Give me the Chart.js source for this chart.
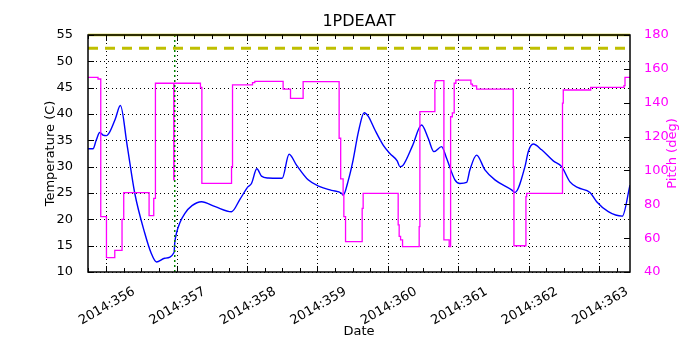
<!DOCTYPE html>
<html>
<head>
<meta charset="utf-8">
<script src="https://cdn.jsdelivr.net/npm/chart.js@4/dist/chart.umd.min.js"></script>
<style>
  body { margin: 0; background: #fff; }
  #wrap { width: 700px; height: 350px; }
</style>
</head>
<body>
<div id="wrap"><canvas id="c" width="700" height="350"></canvas></div>
<script>
// day-of-year 2014 (fractional) and temperature (C)
const tempDays = [
    355.744, 355.815, 355.86, 355.911, 355.957, 356.006, 356.053, 356.13, 356.204,
    356.30, 356.407, 356.549, 356.64, 356.716, 356.833, 356.965, 356.975, 357.0,
    357.046, 357.117, 357.22, 357.355, 357.55, 357.781, 357.90, 358.016, 358.064,
    358.140, 358.206, 358.30, 358.466, 358.499, 358.598, 358.703, 358.868, 359.034,
    359.20, 359.342, 359.365, 359.44, 359.507, 359.58, 359.663, 359.72, 359.815,
    359.933, 360.028, 360.132, 360.170, 360.217, 360.35, 360.478, 360.572, 360.653,
    360.762, 360.833, 360.951, 361.022, 361.117, 361.164, 361.259, 361.377, 361.519,
    361.756, 361.803, 361.945, 361.992, 362.063, 362.182, 362.347, 362.466, 362.584,
    362.70, 362.868, 362.963, 363.128, 363.326, 363.436
];
const tempValues = [
    33.4, 33.4, 35.0, 36.5, 36.0, 35.9, 36.6, 39.0, 41.6,
    34.0, 25.0, 17.4, 13.6, 11.9, 12.6, 13.7, 15.5, 17.4,
    19.3, 21.1, 22.6, 23.35, 22.4, 21.45, 23.8, 26.2, 26.8,
    29.6, 28.2, 27.85, 27.8, 27.8, 32.35, 30.3, 27.5, 26.2,
    25.5, 24.95, 24.6, 27.5, 31.3, 36.5, 40.25, 39.6, 37.0,
    34.1, 32.5, 31.1, 30.0, 30.3, 34.0, 37.9, 35.4, 32.85,
    33.8, 31.6, 27.5, 26.8, 27.0, 29.4, 32.2, 29.4, 27.5,
    25.6, 25.1, 30.0, 32.85, 34.3, 33.2, 31.1, 30.0, 27.1,
    26.0, 25.1, 23.35, 21.45, 20.6, 26.5
];

// pitch (deg): each value holds from its day until the next one
const pitchDays = [
    355.744, 355.886, 355.925, 356.006, 356.124, 356.227, 356.251, 356.611, 356.677,
    356.701, 356.961, 356.966, 357.34, 357.36, 357.781, 357.795, 358.079, 358.111,
    358.513, 358.618, 358.797, 359.308, 359.33, 359.365, 359.375, 359.399, 359.635,
    359.649, 360.146, 360.16, 360.18, 360.208, 360.444, 360.454, 360.667, 360.677,
    360.795, 360.87, 360.89, 360.915, 360.941, 360.965, 361.178, 361.20, 361.259,
    361.779, 361.789, 361.959, 361.969, 362.478, 362.489, 362.878, 363.351, 363.365,
    363.436
];
const pitchValues = [
    155, 154, 72.7, 48.5, 52.8, 71.1, 86.9, 73.3, 83.5,
    151.5, 94.4, 151.5, 149, 92.4, 102.2, 150.5, 151.9, 152.6,
    148, 142.6, 152.4, 119, 95, 85.5, 72.7, 57.9, 77.6,
    86.5, 67.8, 61, 59, 55, 66.8, 134.7, 151.9, 153,
    59, 55, 131.7, 134, 151.5, 153.4, 151, 150, 148,
    102.2, 55.5, 84.5, 86.5, 139.7, 147.5, 149.1, 150.1, 155,
    155
];

const xMin = 355.744;
const xMax = 363.436;
const limitLine = 55;      // solid yellow
const planLine = 52.5;     // dashed yellow
const markerDay = 356.975; // green dotted

const xTickLabels = ['2014:356', '2014:357', '2014:358', '2014:359',
                     '2014:360', '2014:361', '2014:362', '2014:363'];
const xTickDays = [356, 357, 358, 359, 360, 361, 362, 363];

const FONT = "'DejaVu Sans', sans-serif";
const MAGENTA = '#ff00ff';

function toPoints(xs, ys) {
    return xs.map((x, i) => ({x: x, y: ys[i]}));
}

// grid, frame, inward ticks and the text matplotlib puts round the axes
const framePlugin = {
    id: 'frame',
    beforeDatasetsDraw(chart) {
        const {ctx, chartArea: a, scales} = chart;
        ctx.save();
        ctx.strokeStyle = '#000';
        ctx.lineWidth = 1;
        ctx.setLineDash([1, 3]);
        ctx.beginPath();
        scales.x.ticks.forEach(t => {
            const px = Math.round(scales.x.getPixelForValue(t.value)) + 0.5;
            ctx.moveTo(px, a.top);
            ctx.lineTo(px, a.bottom);
        });
        scales.y.ticks.forEach(t => {
            const py = Math.round(scales.y.getPixelForValue(t.value)) + 0.5;
            ctx.moveTo(a.left, py);
            ctx.lineTo(a.right, py);
        });
        ctx.stroke();
        ctx.restore();
    },
    afterDatasetsDraw(chart) {
        const {ctx, chartArea: a, scales} = chart;
        ctx.save();
        ctx.strokeStyle = '#000';
        ctx.lineWidth = 1;
        ctx.beginPath();
        for (let v = Math.ceil(xMin * 4) / 4; v <= xMax; v += 0.25) {
            const px = Math.round(scales.x.getPixelForValue(v)) + 0.5;
            const len = Number.isInteger(v) ? 6 : 4;
            ctx.moveTo(px, a.bottom);
            ctx.lineTo(px, a.bottom - len);
            ctx.moveTo(px, a.top);
            ctx.lineTo(px, a.top + len);
        }
        scales.y.ticks.forEach(t => {
            const py = Math.round(scales.y.getPixelForValue(t.value)) + 0.5;
            ctx.moveTo(a.left, py);
            ctx.lineTo(a.left + 6, py);
        });
        scales.y2.ticks.forEach(t => {
            const py = Math.round(scales.y2.getPixelForValue(t.value)) + 0.5;
            ctx.moveTo(a.right, py);
            ctx.lineTo(a.right - 6, py);
        });
        ctx.stroke();
        ctx.lineWidth = 1.5;
        ctx.strokeRect(a.left, a.top, a.right - a.left, a.bottom - a.top);
        ctx.restore();
    },
    afterDraw(chart) {
        const {ctx, chartArea: a} = chart;
        ctx.save();
        ctx.fillStyle = '#000';
        ctx.font = "16px " + FONT;
        ctx.textAlign = 'center';
        ctx.textBaseline = 'middle';
        ctx.fillText('1PDEAAT', (a.left + a.right) / 2, 22);
        ctx.translate(673, (a.top + a.bottom) / 2);
        ctx.rotate(-Math.PI / 2);
        ctx.fillStyle = MAGENTA;
        ctx.font = "13px " + FONT;
        ctx.fillText('Pitch (deg)', 0, 0);
        ctx.restore();
    }
};

new Chart(document.getElementById('c'), {
    type: 'line',
    data: {
        datasets: [
            {
                data: toPoints([xMin, xMax], [limitLine, limitLine]),
                borderColor: '#bfbf00', borderWidth: 2.5, pointRadius: 0,
                yAxisID: 'y', clip: false
            },
            {
                data: toPoints([xMin, xMax], [planLine, planLine]),
                borderColor: '#bfbf00', borderWidth: 3, borderDash: [10, 7],
                pointRadius: 0, yAxisID: 'y'
            },
            {
                data: toPoints([markerDay, markerDay], [10, 55]),
                borderColor: '#008000', borderWidth: 1.5, borderDash: [2, 3],
                pointRadius: 0, yAxisID: 'y'
            },
            {
                data: toPoints(pitchDays, pitchValues),
                borderColor: MAGENTA, borderWidth: 1.3, pointRadius: 0,
                stepped: true, yAxisID: 'y2'
            },
            {
                data: toPoints(tempDays, tempValues),
                borderColor: '#0000ff', borderWidth: 1.4, pointRadius: 0,
                cubicInterpolationMode: 'monotone', yAxisID: 'y'
            }
        ]
    },
    options: {
        responsive: false,
        animation: false,
        layout: { padding: { top: 35, left: 0, right: 0, bottom: 0 } },
        plugins: {
            legend: { display: false },
            title: { display: false },
            tooltip: { enabled: false }
        },
        scales: {
            x: {
                type: 'linear',
                position: 'bottom',
                min: xMin,
                max: xMax,
                grid: { display: false },
                border: { display: false },
                ticks: {
                    stepSize: 1,
                    includeBounds: false,
                    autoSkip: false,
                    minRotation: 30,
                    maxRotation: 30,
                    padding: 4,
                    labelOffset: 28,
                    color: '#000',
                    font: { family: FONT, size: 13 },
                    callback: v => {
                        const i = xTickDays.indexOf(Math.round(v));
                        return (i >= 0 && Math.abs(v - Math.round(v)) < 1e-6) ? xTickLabels[i] : '';
                    }
                },
                title: {
                    display: true, text: 'Date', color: '#000',
                    font: { family: FONT, size: 13 },
                    padding: { top: 0, bottom: 11 }
                },
                afterFit: s => { s.height = 78; }
            },
            y: {
                position: 'left',
                min: 10,
                max: 55,
                grid: { display: false },
                border: { display: false },
                ticks: {
                    stepSize: 5, padding: 7, color: '#000',
                    font: { family: FONT, size: 13 }
                },
                title: {
                    display: true, text: 'Temperature (C)', color: '#000',
                    font: { family: FONT, size: 13 },
                    padding: { top: 43, bottom: 0 }
                },
                afterFit: s => { s.width = 88; }
            },
            y2: {
                position: 'right',
                min: 40,
                max: 180,
                grid: { display: false },
                border: { display: false },
                ticks: {
                    stepSize: 20, padding: 6, color: MAGENTA,
                    font: { family: FONT, size: 13 }
                },
                afterFit: s => { s.width = 70; }
            }
        }
    },
    plugins: [framePlugin]
});
</script>
</body>
</html>
